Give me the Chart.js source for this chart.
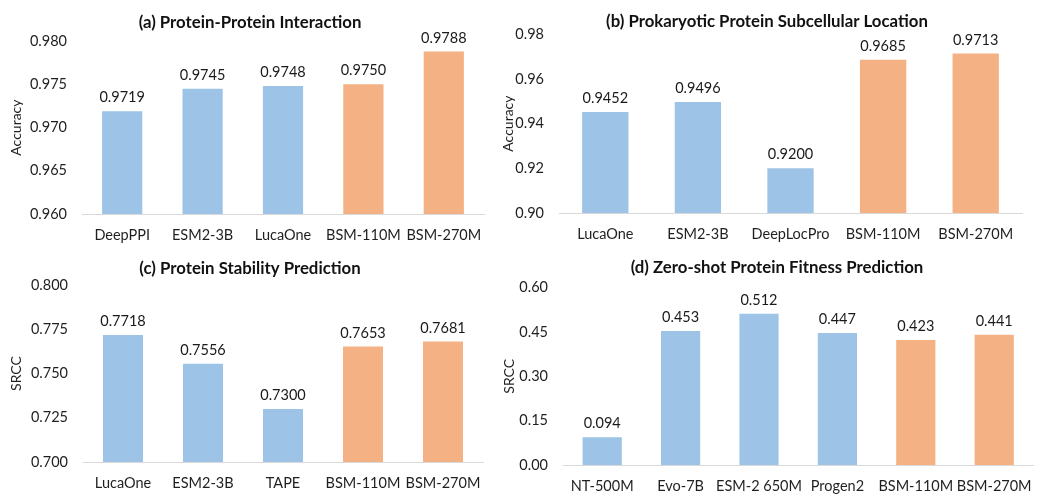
<!DOCTYPE html>
<html>
<head>
<meta charset="utf-8">
<script src="https://cdn.jsdelivr.net/npm/chart.js@4/dist/chart.umd.min.js"></script>
<style>
  body { margin: 0; background: #fff; }
  #wrap { position: relative; width: 1045px; height: 495px; overflow: hidden; }
  .panel { position: absolute; }
</style>
</head>
<body>
<div id="wrap">
  <div class="panel" style="left:0px;top:0px;width:500px;height:250px"><canvas id="chartA"></canvas></div>
  <div class="panel" style="left:500px;top:0px;width:545px;height:250px"><canvas id="chartB"></canvas></div>
  <div class="panel" style="left:0px;top:250px;width:500px;height:245px"><canvas id="chartC"></canvas></div>
  <div class="panel" style="left:500px;top:250px;width:545px;height:245px"><canvas id="chartD"></canvas></div>
</div>
<script>
// data
var catsA = ["DeepPPI", "ESM2-3B", "LucaOne", "BSM-110M", "BSM-270M"];
var valsA = [0.9719, 0.9745, 0.9748, 0.9750, 0.9788];
var ticksA = [0.960, 0.965, 0.970, 0.975, 0.980];

var catsB = ["LucaOne", "ESM2-3B", "DeepLocPro", "BSM-110M", "BSM-270M"];
var valsB = [0.9452, 0.9496, 0.9200, 0.9685, 0.9713];
var ticksB = [0.90, 0.92, 0.94, 0.96, 0.98];

var catsC = ["LucaOne", "ESM2-3B", "TAPE", "BSM-110M", "BSM-270M"];
var valsC = [0.7718, 0.7556, 0.7300, 0.7653, 0.7681];
var ticksC = [0.700, 0.725, 0.750, 0.775, 0.800];

var catsD = ["NT-500M", "Evo-7B", "ESM-2 650M", "Progen2", "BSM-110M", "BSM-270M"];
var valsD = [0.094, 0.453, 0.512, 0.447, 0.423, 0.441];
var ticksD = [0.00, 0.15, 0.30, 0.45, 0.60];

var BLUE = "#9DC3E6";
var ORANGE = "#F4B183";
var FONT = "Lato";

// draws the number above each bar
var valueLabels = {
    id: "valueLabels",
    afterDatasetsDraw: function (chart) {
        var ctx = chart.ctx;
        var digits = chart.options.plugins.valueLabels.digits;
        var meta = chart.getDatasetMeta(0);
        ctx.save();
        ctx.font = "14.5px " + FONT;
        ctx.fillStyle = "#1a1a1a";
        ctx.textAlign = "center";
        ctx.textBaseline = "alphabetic";
        meta.data.forEach(function (bar, i) {
            var v = chart.data.datasets[0].data[i];
            ctx.fillText(v.toFixed(digits), bar.x, bar.y - 9);
        });
        ctx.restore();
    }
};

function makeChart(id, p) {
    var colors = p.cats.map(function (c) {
        return c.indexOf("BSM") === 0 ? ORANGE : BLUE;
    });
    var config = {
        type: "bar",
        data: {
            labels: p.cats,
            datasets: [{
                data: p.vals,
                backgroundColor: colors,
                categoryPercentage: 1,
                barPercentage: 0.5
            }]
        },
        options: {
            responsive: true,
            maintainAspectRatio: false,
            animation: false,
            layout: {
                padding: { left: p.padL, right: p.padR, top: 0, bottom: 0 }
            },
            plugins: {
                legend: { display: false },
                tooltip: { enabled: false },
                title: {
                    display: true,
                    text: p.title,
                    color: "#111",
                    font: { size: 16.8, weight: "bold", family: FONT },
                    padding: { top: p.titleTop, bottom: p.titleBottom }
                },
                valueLabels: { digits: p.digits }
            },
            scales: {
                x: {
                    grid: { display: false, drawTicks: false },
                    border: { color: "#D9D9D9", width: 1 },
                    ticks: {
                        color: "#1f1f1f",
                        padding: 13,
                        maxRotation: 0,
                        autoSkip: false,
                        font: { size: 14.5, family: FONT }
                    },
                    afterFit: function (scale) { scale.height = p.xHeight; }
                },
                y: {
                    min: p.ticks[0],
                    max: p.ticks[p.ticks.length - 1],
                    grid: { display: false, drawTicks: false },
                    border: { display: false },
                    ticks: {
                        color: "#1f1f1f",
                        padding: 15,
                        font: { size: 14.5, family: FONT },
                        callback: function (v) { return Number(v).toFixed(p.tickDigits); }
                    },
                    afterBuildTicks: function (scale) {
                        scale.ticks = p.ticks.map(function (v) { return { value: v }; });
                    },
                    afterFit: function (scale) { scale.width = p.yWidth; },
                    title: {
                        display: true,
                        text: p.yTitle,
                        color: "#1f1f1f",
                        font: { size: 14, family: FONT },
                        padding: { top: p.yTitlePad, bottom: 0 }
                    }
                }
            }
        },
        plugins: [valueLabels]
    };
    return new Chart(document.getElementById(id), config);
}

var chartA = makeChart("chartA", {
    cats: catsA, vals: valsA, ticks: ticksA, digits: 4, tickDigits: 3,
    title: "(a) Protein-Protein Interaction", yTitle: "Accuracy",
    padL: 16, padR: 16, yWidth: 66, xHeight: 36, titleTop: 12.5, titleBottom: 8.5, yTitlePad: -7.5
});

var chartB = makeChart("chartB", {
    cats: catsB, vals: valsB, ticks: ticksB, digits: 4, tickDigits: 2,
    title: "(b) Prokaryotic Protein Subcellular Location", yTitle: "Accuracy",
    padL: 12, padR: 23, yWidth: 47, xHeight: 37, titleTop: 11.5, titleBottom: 2.5, yTitlePad: -11.5
});

var chartC = makeChart("chartC", {
    cats: catsC, vals: valsC, ticks: ticksC, digits: 4, tickDigits: 3,
    title: "(c) Protein Stability Prediction", yTitle: "SRCC",
    padL: 17, padR: 17, yWidth: 66, xHeight: 33, titleTop: 8.5, titleBottom: 6.5, yTitlePad: -8.5
});

var chartD = makeChart("chartD", {
    cats: catsD, vals: valsD, ticks: ticksD, digits: 3, tickDigits: 2,
    title: "(d) Zero-shot Protein Fitness Prediction", yTitle: "SRCC",
    padL: 14, padR: 5, yWidth: 49, xHeight: 30, titleTop: 7.5, titleBottom: 10, yTitlePad: -12.5
});
</script>
</body>
</html>
